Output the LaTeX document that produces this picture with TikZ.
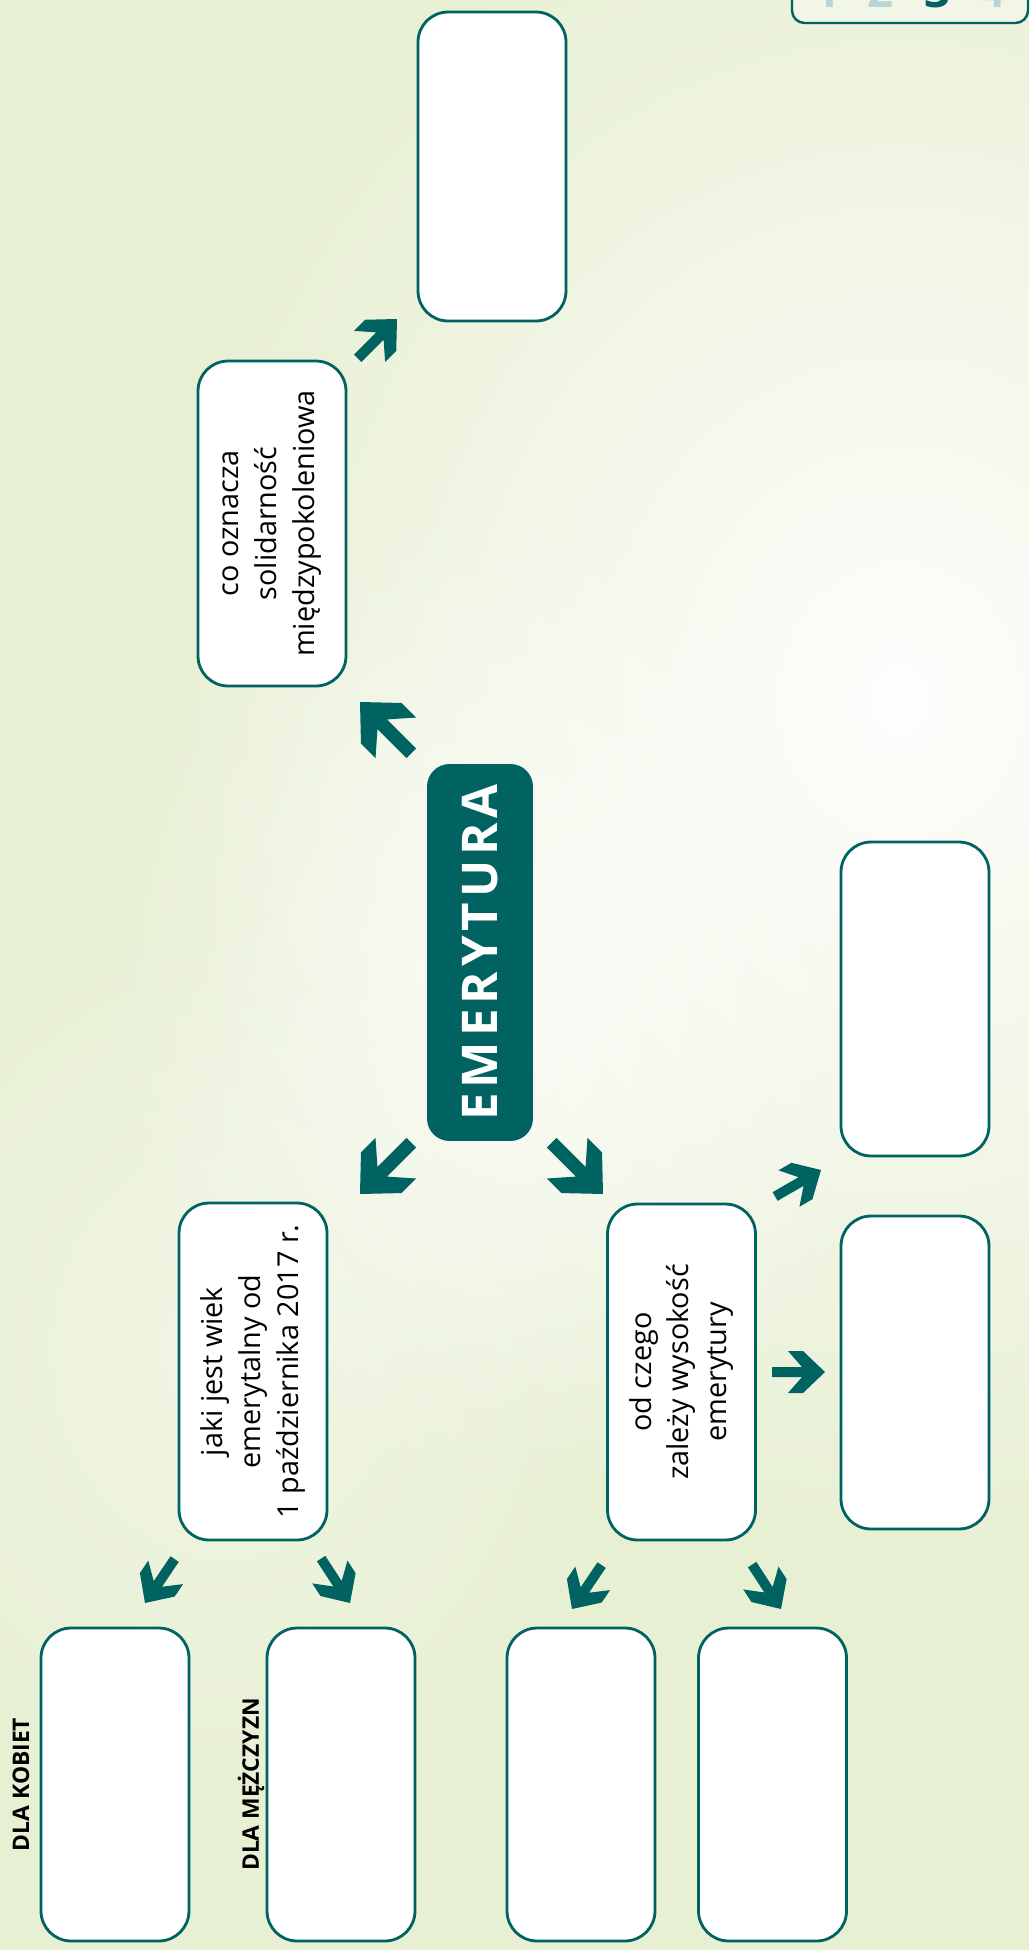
\documentclass[tikz,border=0pt]{standalone}
\usepackage{fontspec}
\setmainfont{Open Sans}
\newfontfamily\widefont[LetterSpace=10]{Open Sans}
\usetikzlibrary{fadings}

\definecolor{emteal}{RGB}{0,99,97}
\definecolor{bggreen}{RGB}{232,240,212}
\definecolor{digitgray}{RGB}{186,212,214}

\tikzfading[name = softglow, inner color = transparent!0, outer color = transparent!100]

\tikzset{
  card/.style = {draw = emteal, line width = 1.6pt, fill = white, rounded corners = 0.6cm,
    rotate = 90, minimum height = 2.96cm, inner sep = 0pt, align = center,
    font = \fontsize{16.4}{21.5}\selectfont},
  hub/.style = {fill = emteal, rounded corners = 0.45cm, rotate = 90, inner sep = 0pt,
    minimum width = 7.54cm, minimum height = 2.12cm, text = white,
    font = \widefont\bfseries\fontsize{28}{30}\selectfont},
  lbl/.style = {rotate = 90, inner sep = 0pt, font = \bfseries\fontsize{13}{15}\selectfont},
  digit/.style = {anchor = base, inner sep = 0pt, font = \bfseries\fontsize{26}{28}\selectfont},
  pics/blockarrow/.style = {code = {
    \fill[emteal] (0, 0) -- (-22, 21) -- (-37, 21) -- (-23, 5) -- (-53, 5) -- (-53, -5)
      -- (-23, -5) -- (-37, -21) -- (-22, -21) -- cycle;
  }},
}

\begin{document}
\begin{tikzpicture}[x = 0.02cm, y = -0.02cm]
		\useasboundingbox (0, 0) rectangle (1029, 1950);
		\clip (0, 0) rectangle (1029, 1950);
		% Background
		\fill[bggreen] (0, 0) rectangle (1029, 1950);
		\fill[white, path fading = softglow, opacity = 0.95] (150, -150) rectangle (1650, 1550);
		\fill[white, path fading = softglow, opacity = 0.7] (100, 500) rectangle (900, 1500);
		\fill[white, path fading = softglow, opacity = 0.4] (-150, 900) rectangle (600, 1800);
		% Steps
		\draw[emteal, line width = 1.4pt, rounded corners = 0.25cm, fill = white, fill opacity = 0.35] (792, -40) rectangle (1028, 23);
		\node[digit, text = digitgray] (d1) at (828, 8) {1};
		\node[digit, text = digitgray] (d2) at (881, 8) {2};
		\node[digit, text = emteal] (d3) at (938, 8) {3};
		\node[digit, text = digitgray] (d4) at (993, 8) {4};
		% Centre
		\node[hub] (emer) at (480, 952.5) {EMERYTURA};
		% Boxes
		\node[card, minimum width = 6.18cm] (top) at (492, 166.5) {};
		\node[card, minimum width = 6.5cm] (solid) at (272, 523.5) {co oznacza\\solidarność\\międzypokoleniowa};
		\node[card, minimum width = 6.74cm] (wiek) at (253, 1371.5) {jaki jest wiek\\emerytalny od\\1 października 2017 r.};
		\node[card, minimum width = 6.72cm] (czego) at (681.5, 1372) {od czego\\zależy wysokość\\emerytury};
		\node[card, minimum width = 6.28cm] (rtop) at (915, 999) {};
		\node[card, minimum width = 6.26cm] (rbot) at (915, 1372.5) {};
		\node[card, minimum width = 6.26cm] (kob) at (115, 1784.5) {};
		\node[card, minimum width = 6.26cm] (mez) at (341, 1784.5) {};
		\node[card, minimum width = 6.26cm] (lft) at (581, 1784.5) {};
		\node[card, minimum width = 6.26cm] (rgt) at (772.5, 1784.5) {};
		% Labels
		\node[lbl] (lkob) at (21, 1784.5) {DLA KOBIET};
		\node[lbl] (lmez) at (251, 1784.5) {DLA MĘŻCZYZN};
		% Arrows
		\pic[rotate = 45, scale = 1.05] at (397, 319) {blockarrow};
		\pic[rotate = 135, scale = 1.37] at (360, 702) {blockarrow};
		\pic[rotate = 225, scale = 1.37] at (360, 1194) {blockarrow};
		\pic[rotate = 315, scale = 1.37] at (603, 1194) {blockarrow};
		\pic[rotate = 30] at (821, 1170) {blockarrow};
		\pic[rotate = 0] at (825, 1372) {blockarrow};
		\pic[rotate = 236] at (145, 1603) {blockarrow};
		\pic[rotate = 303] at (350, 1603) {blockarrow};
		\pic[rotate = 236] at (572, 1609) {blockarrow};
		\pic[rotate = 303] at (781, 1609) {blockarrow};
	\end{tikzpicture}
\end{document}
